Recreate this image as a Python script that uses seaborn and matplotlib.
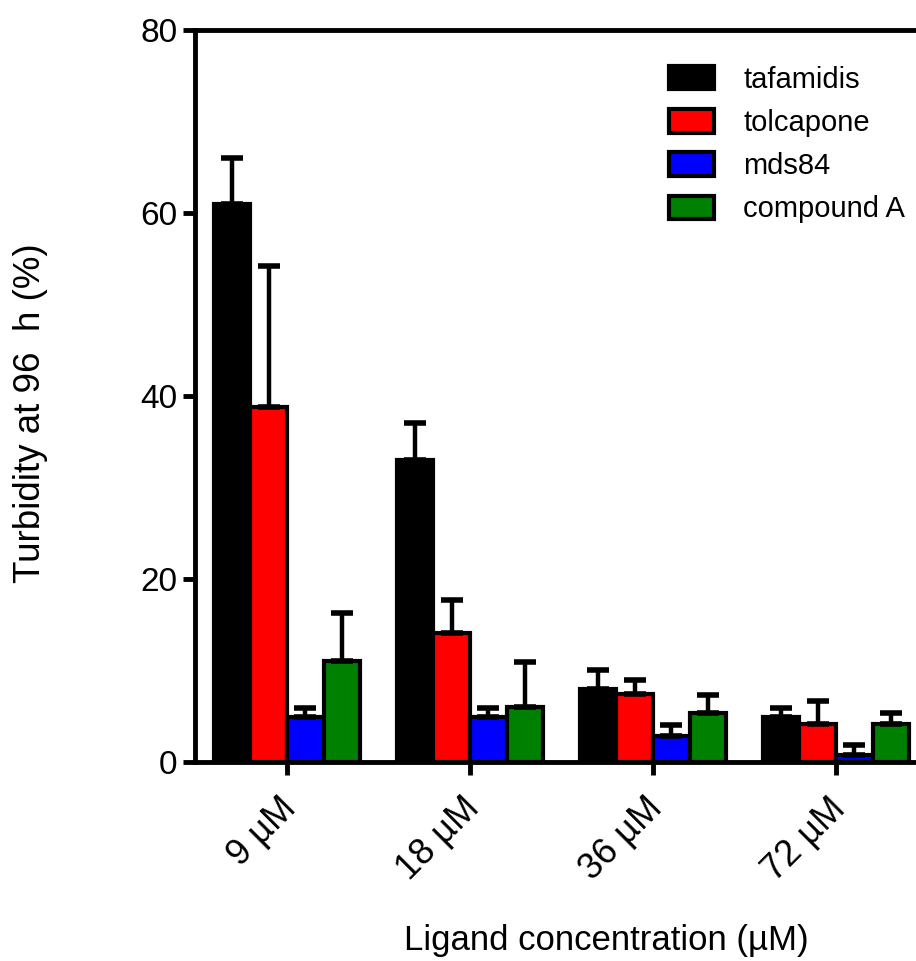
import numpy as np
import pandas as pd
import matplotlib
matplotlib.use("Agg")
import matplotlib.pyplot as plt
import matplotlib.transforms as mtransforms
import seaborn as sns

# Turbidity (%) after 96 h for each ligand at each concentration (mean and upper SD)
concentrations = ["9 µM", "18 µM", "36 µM", "72 µM"]
ligands = ["tafamidis", "tolcapone", "mds84", "compound A"]
colors = ["#000000", "#FF0000", "#0000FF", "#008000"]

tafamidis_mean = [61.0, 33.0, 8.0, 4.9]
tafamidis_err = [5.0, 4.0, 2.0, 1.0]
tolcapone_mean = [38.8, 14.1, 7.4, 4.2]
tolcapone_err = [15.4, 3.6, 1.6, 2.5]
mds84_mean = [4.9, 4.9, 2.8, 0.8]
mds84_err = [1.0, 1.0, 1.2, 1.1]
compound_a_mean = [11.0, 6.0, 5.3, 4.2]
compound_a_err = [5.3, 4.9, 2.0, 1.2]

y_ticks = [0, 20, 40, 60, 80]

means = [tafamidis_mean, tolcapone_mean, mds84_mean, compound_a_mean]
errs = [tafamidis_err, tolcapone_err, mds84_err, compound_a_err]

df = pd.DataFrame({
    "conc": np.tile(concentrations, len(ligands)),
    "ligand": np.repeat(ligands, len(concentrations)),
    "turbidity": np.concatenate(means),
})

sns.set_style("ticks", {"axes.edgecolor": "black", "text.color": "black",
                        "xtick.color": "black", "ytick.color": "black",
                        "axes.labelcolor": "black"})
plt.rcParams["font.family"] = ["Liberation Sans", "DejaVu Sans"]

fig = plt.figure(figsize=(9.16, 9.61), dpi=100)
ax = fig.add_axes([0.2134, 0.2071, 0.7992, 0.7617])

sns.barplot(data=df, x="conc", y="turbidity", hue="ligand",
            order=concentrations, hue_order=ligands, palette=colors,
            saturation=1, width=0.8, errorbar=None, edgecolor="black",
            linewidth=3, ax=ax, legend=True)

# Upper-only error bars on each bar
bar_containers = list(ax.containers)
for cont, m, e in zip(bar_containers, means, errs):
    xs = [p.get_x() + p.get_width() / 2 for p in cont.patches]
    ax.errorbar(xs, m, yerr=[np.zeros(len(e)), e], fmt="none", ecolor="black",
                elinewidth=3.2, capsize=8, capthick=4, zorder=1)

ax.set_xlim(-0.5, 3.5)
ax.set_ylim(0, 80)
ax.set_yticks(y_ticks)

for side in ["left", "bottom", "top"]:
    ax.spines[side].set_linewidth(3.5)
    ax.spines[side].set_color("black")
    ax.spines[side].set_visible(True)
ax.spines["right"].set_visible(False)

ax.tick_params(axis="both", direction="out", length=9, width=3.5,
               pad=4, color="black", labelcolor="black")
ax.tick_params(axis="y", labelsize=24)
ax.tick_params(axis="x", labelsize=26, pad=12)
shift = mtransforms.ScaledTranslation(-0.08, 0, fig.dpi_scale_trans)
for lbl in ax.get_xticklabels():
    lbl.set_rotation(45)
    lbl.set_ha("right")
    lbl.set_rotation_mode("anchor")
    lbl.set_transform(lbl.get_transform() + shift)

ax.set_xlabel("Ligand concentration (µM)", fontsize=25, color="black")
ax.set_ylabel("Turbidity at 96  h (%)", fontsize=26.5, color="black")
ax.xaxis.set_label_coords(0.561, -0.222)
ax.yaxis.set_label_coords(-0.201, 0.477)

handles, labels = ax.get_legend_handles_labels()
for h in handles:
    h.set_edgecolor("black")
    h.set_linewidth(3)
ax.legend(handles, labels, loc="upper right", bbox_to_anchor=(0.985, 0.967),
          frameon=False, fontsize=21, handlelength=1.55, handleheight=0.85,
          handletextpad=1.0, labelspacing=0.52, borderaxespad=0)

fig.savefig("out.png", dpi=100)
